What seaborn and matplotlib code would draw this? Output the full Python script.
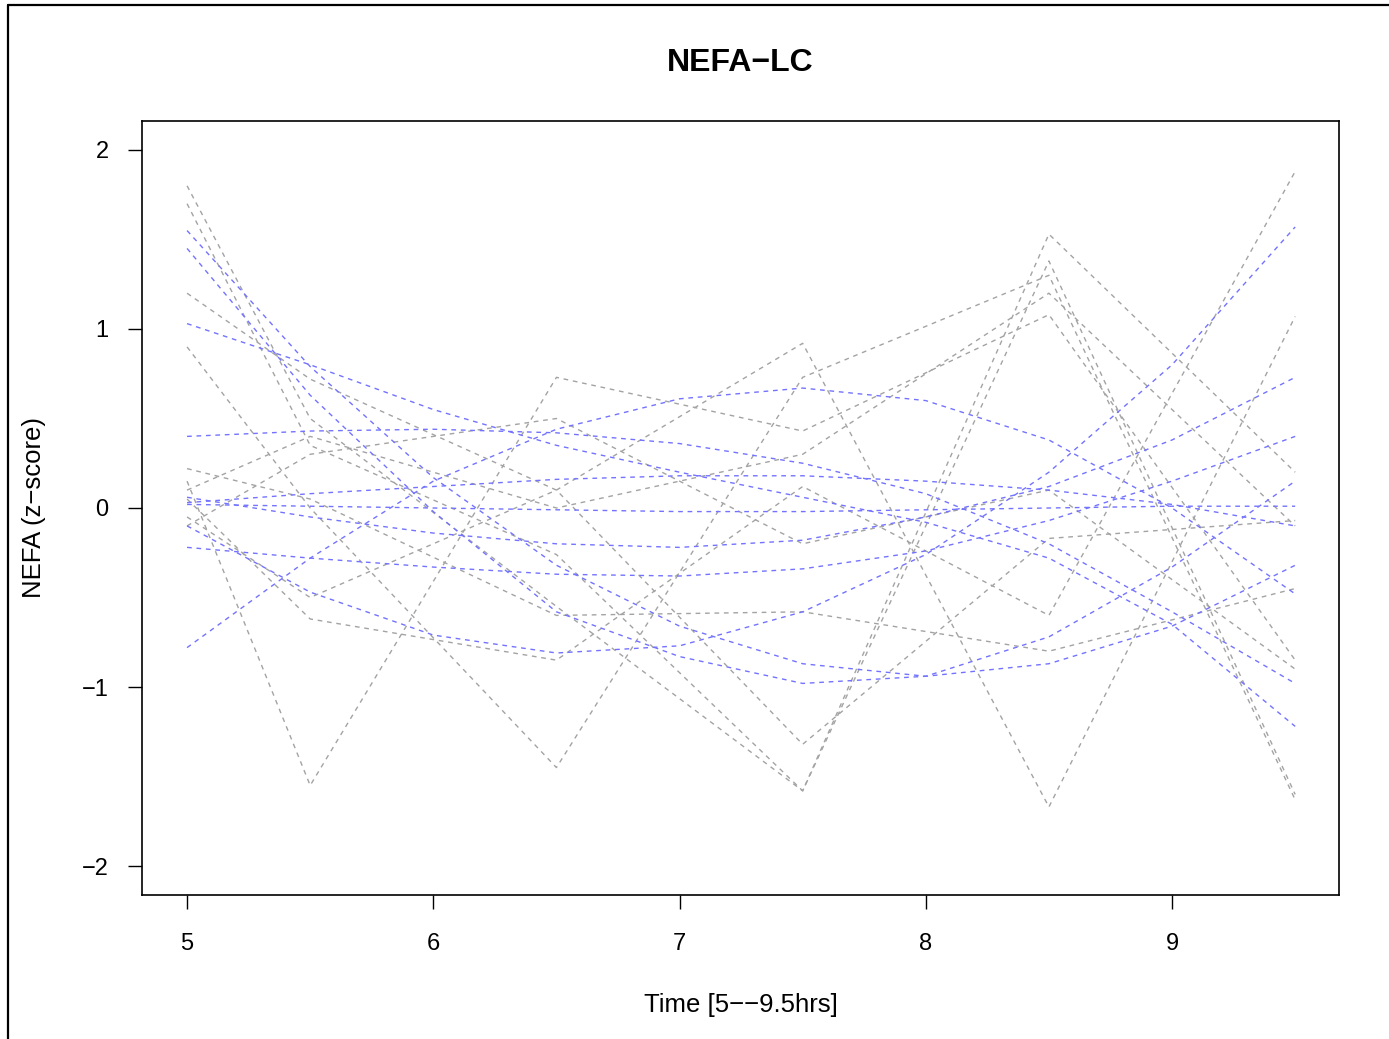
import matplotlib
matplotlib.use("Agg")
import matplotlib.pyplot as plt
import matplotlib.lines as mlines
import seaborn as sns
import pandas as pd

# ---------------- data ----------------
gray_times = [5, 5.5, 6.5, 7.5, 8.5, 9.5]
gray_L1 = [0.15, -1.55, 0.73, 0.43, 1.08, -0.85]
gray_L2 = [0.90, 0.00, -1.45, 0.73, 1.30, -1.63]
gray_L3 = [0.05, -0.62, -0.85, 0.12, -0.60, 1.88]
gray_L4 = [1.80, 0.50, -0.55, -1.58, 1.38, -1.60]
gray_L5 = [1.70, 0.35, -0.26, -1.58, 1.53, 0.20]
gray_L6 = [1.20, 0.72, 0.10, -1.32, -0.17, -0.07]
gray_L7 = [0.22, 0.05, -0.60, -0.58, -0.80, -0.45]
gray_L8 = [-0.05, -0.50, 0.10, 0.92, -1.67, 1.07]
gray_L9 = [-0.10, 0.30, 0.50, -0.20, 0.10, -0.90]
gray_L10 = [0.10, 0.40, 0.00, 0.30, 1.20, -0.10]
gray_lines = [gray_L1, gray_L2, gray_L3, gray_L4, gray_L5,
              gray_L6, gray_L7, gray_L8, gray_L9, gray_L10]

blue_times = [5, 5.5, 6, 6.5, 7, 7.5, 8, 8.5, 9, 9.5]
blue_B1 = [1.55, 0.79, 0.17, -0.32, -0.66, -0.87, -0.94, -0.87, -0.66, -0.32]
blue_B2 = [1.45, 0.63, -0.02, -0.58, -0.83, -0.98, -0.94, -0.72, -0.33, 0.15]
blue_B3 = [1.03, 0.80, 0.55, 0.35, 0.20, 0.06, -0.08, -0.28, -0.65, -1.22]
blue_B4 = [0.40, 0.43, 0.44, 0.42, 0.36, 0.25, 0.08, -0.20, -0.58, -0.98]
blue_B5 = [-0.78, -0.28, 0.15, 0.44, 0.61, 0.67, 0.60, 0.38, 0.00, -0.48]
blue_B6 = [-0.10, -0.47, -0.71, -0.81, -0.77, -0.58, -0.26, 0.20, 0.80, 1.57]
blue_B7 = [0.02, 0.01, 0.00, -0.01, -0.02, -0.02, -0.01, 0.00, 0.01, 0.01]
blue_B8 = [0.03, 0.08, 0.12, 0.16, 0.18, 0.18, 0.15, 0.10, 0.02, -0.10]
blue_B9 = [0.06, -0.05, -0.14, -0.20, -0.22, -0.18, -0.05, 0.12, 0.38, 0.73]
blue_B10 = [-0.22, -0.28, -0.33, -0.37, -0.38, -0.34, -0.24, -0.07, 0.15, 0.40]
blue_lines = [blue_B1, blue_B2, blue_B3, blue_B4, blue_B5,
              blue_B6, blue_B7, blue_B8, blue_B9, blue_B10]

x_ticks = [5, 6, 7, 8, 9]
y_ticks = [-2, -1, 0, 1, 2]
y_tick_labels = ["\u22122", "\u22121", "0", "1", "2"]
title = "NEFA\u2212LC"
xlabel = "Time [5\u2212\u22129.5hrs]"
ylabel = "NEFA (z\u2212score)"

# ---------------- frames ----------------
gray_df = pd.DataFrame(
    [(i, t, v) for i, ln in enumerate(gray_lines) for t, v in zip(gray_times, ln)],
    columns=["id", "time", "value"])
blue_df = pd.DataFrame(
    [(i, t, v) for i, ln in enumerate(blue_lines) for t, v in zip(blue_times, ln)],
    columns=["id", "time", "value"])

# ---------------- style ----------------
sns.set_style("white")
plt.rcParams["font.family"] = ["Liberation Sans", "DejaVu Sans"]
plt.rcParams["text.color"] = "black"
plt.rcParams["axes.labelcolor"] = "black"

W, H = 1389, 1039
fig = plt.figure(figsize=(W / 100, H / 100), dpi=100)
ax = fig.add_axes([142 / W, 1 - 895 / H, (1339 - 142) / W, (895 - 121) / H])

dash = (0, (3.4, 3.4))
sns.lineplot(data=gray_df, x="time", y="value", units="id", estimator=None,
             color="#a3a3a3", linewidth=1.0, linestyle=dash, ax=ax, legend=False)
sns.lineplot(data=blue_df, x="time", y="value", units="id", estimator=None,
             color="#7373ff", linewidth=1.0, linestyle=dash, ax=ax, legend=False)

ax.set_xlim(4.817, 9.678)
ax.set_ylim(-2.162, 2.162)
ax.set_xticks(x_ticks)
ax.set_xticklabels([str(t) for t in x_ticks])
ax.set_yticks(y_ticks)
ax.set_yticklabels(y_tick_labels)
ax.tick_params(axis="both", direction="out", length=10, width=1.0,
               colors="black", labelsize=17, bottom=True, left=True)
ax.tick_params(axis="x", pad=17)
ax.tick_params(axis="y", pad=14)
for s in ax.spines.values():
    s.set_visible(True)
    s.set_color("black")
    s.set_linewidth(1.2)

ax.set_xlabel(xlabel, fontsize=18.5, labelpad=28, color="black")
ax.set_ylabel(ylabel, fontsize=18.5, labelpad=26, color="black")
ax.set_title(title, fontsize=23, fontweight="bold", pad=36, color="black")

# outer frame lines (left and top) like the reference
fig.add_artist(mlines.Line2D([8 / W, 8 / W], [0, 1 - 5 / H], color="black",
                             linewidth=1.6, transform=fig.transFigure))
fig.add_artist(mlines.Line2D([8 / W, 1], [1 - 5 / H, 1 - 5 / H], color="black",
                             linewidth=1.6, transform=fig.transFigure))

fig.savefig("out.png", dpi=100, facecolor="white")
